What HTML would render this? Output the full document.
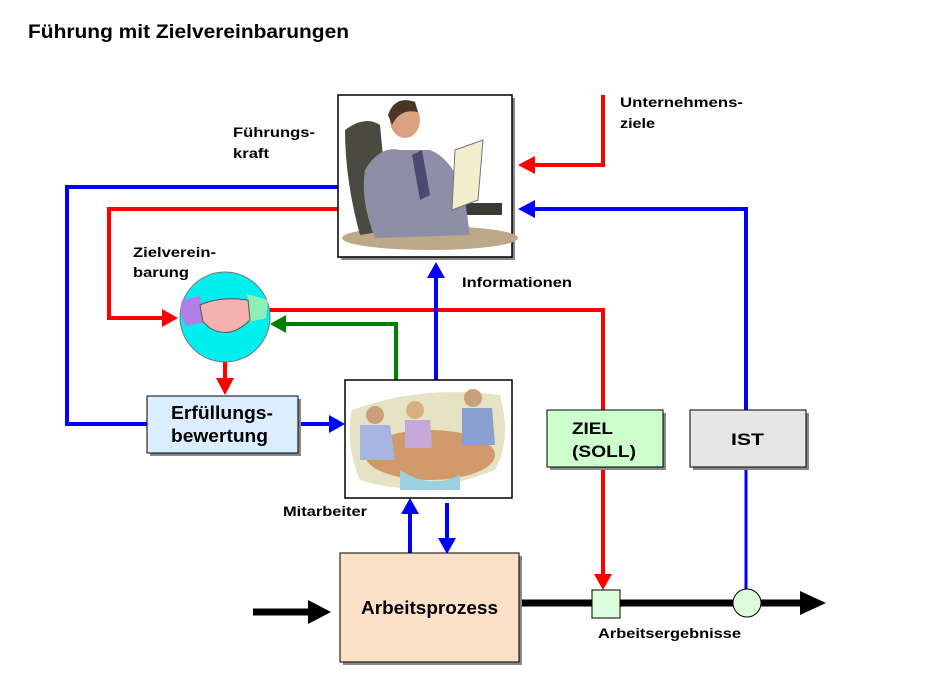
<!DOCTYPE html>
<html><head><meta charset="utf-8"><style>
html,body{margin:0;padding:0;background:#fff;}
svg{display:block;font-family:"Liberation Sans",sans-serif;font-weight:bold;}
</style></head><body>
<svg width="928" height="688" viewBox="0 0 928 688" xmlns="http://www.w3.org/2000/svg">
<text x="28" y="38" font-size="19" fill="#000" textLength="321" lengthAdjust="spacingAndGlyphs">Führung mit Zielvereinbarungen</text>

<polyline points="338,187 67,187 67,424 147,424" fill="none" stroke="#0000ff" stroke-width="4"/>
<polyline points="338,209 109,209 109,318 164,318" fill="none" stroke="red" stroke-width="4"/>
<polygon points="162,309 178,318 162,327" fill="red"/>
<polyline points="603,95 603,165 533,165" fill="none" stroke="red" stroke-width="4"/>
<polygon points="535,156 518,165 535,174" fill="red"/>
<polyline points="746,410 746,209 533,209" fill="none" stroke="#0000ff" stroke-width="4"/>
<polygon points="535,200 518,209 535,218" fill="#0000ff"/>
<polyline points="268,310 603,310 603,410" fill="none" stroke="red" stroke-width="4"/>
<line x1="603" y1="467" x2="603" y2="576" stroke="red" stroke-width="4"/>
<polygon points="594,574 603,590 612,574" fill="red"/>
<polyline points="396,380 396,324 284,324" fill="none" stroke="#008000" stroke-width="4"/>
<polygon points="286,315 270,324 286,333" fill="#008000"/>
<line x1="225" y1="360" x2="225" y2="380" stroke="red" stroke-width="4"/>
<polygon points="216,378 225,395 234,378" fill="red"/>
<line x1="298" y1="424" x2="330" y2="424" stroke="#0000ff" stroke-width="4"/>
<polygon points="329,415 345,424 329,433" fill="#0000ff"/>
<line x1="436" y1="380" x2="436" y2="276" stroke="#0000ff" stroke-width="4"/>
<polygon points="427,278 436,262 445,278" fill="#0000ff"/>
<line x1="746" y1="467" x2="746" y2="592" stroke="#0000ff" stroke-width="3"/>
<line x1="410" y1="553" x2="410" y2="512" stroke="#0000ff" stroke-width="4"/>
<polygon points="401,514 410,498 419,514" fill="#0000ff"/>
<line x1="447" y1="503" x2="447" y2="540" stroke="#0000ff" stroke-width="4"/>
<polygon points="438,538 447,554 456,538" fill="#0000ff"/>
<line x1="253" y1="612" x2="312" y2="612" stroke="#000" stroke-width="7"/>
<polygon points="308,600 331,612 308,624" fill="#000"/>
<line x1="519" y1="603" x2="803" y2="603" stroke="#000" stroke-width="7"/>
<polygon points="800,591 826,603 800,615" fill="#000"/>
<rect x="592" y="590" width="28" height="28" fill="#ddfedd" stroke="#000" stroke-width="1"/>
<circle cx="747" cy="603" r="14" fill="#ddfedd" stroke="#000" stroke-width="1"/>

<rect x="341" y="98" width="174" height="162" fill="#888"/>
<rect x="338" y="95" width="174" height="162" fill="#fff" stroke="#000" stroke-width="1.5"/>
<ellipse cx="430" cy="238" rx="88" ry="12" fill="#bba988"/>
<path d="M345,130 Q365,115 380,125 L390,230 L360,235 Q345,180 345,130Z" fill="#4a4a40"/>
<rect x="460" y="203" width="42" height="12" fill="#3b3b36"/>
<path d="M365,170 Q380,145 400,150 L430,150 Q455,160 465,200 L470,235 L375,238 Q360,200 365,170Z" fill="#8e8ea6"/>
<ellipse cx="405" cy="120" rx="15" ry="18" fill="#d7a382"/>
<path d="M388,115 Q395,95 415,102 L418,112 Q400,108 392,125Z" fill="#4b3526"/>
<path d="M412,155 L422,150 L430,195 L420,200Z" fill="#4a4a70"/>
<path d="M455,150 L483,140 L478,200 L452,210Z" fill="#f2efcc" stroke="#777" stroke-width="1"/>
<circle cx="225" cy="317" r="45" fill="#00eeee" stroke="#777" stroke-width="1"/>
<path d="M182,300 L200,296 L204,322 L186,326 Q178,312 182,300Z" fill="#b27fe8"/>
<path d="M247,294 L268,300 L266,318 L250,322Z" fill="#8ef0b5"/>
<path d="M200,305 Q220,296 248,300 L250,320 Q230,340 210,328 L203,322Z" fill="#f5b0b0" stroke="#555" stroke-width="1"/>
<rect x="150" y="399" width="151" height="57" fill="#888"/>
<rect x="147" y="396" width="151" height="57" fill="#dbeeff" stroke="#000" stroke-width="1"/>
<text x="171" y="419" font-size="18" textLength="102" lengthAdjust="spacingAndGlyphs">Erfüllungs-</text>
<text x="171" y="442" font-size="18" textLength="97" lengthAdjust="spacingAndGlyphs">bewertung</text>
<rect x="345" y="380" width="167" height="118" fill="#fff" stroke="#000" stroke-width="1.5"/>
<path d="M352,410 Q420,385 500,395 Q512,440 495,470 Q420,500 360,480 Q345,445 352,410Z" fill="#e6e2c4"/>
<ellipse cx="430" cy="455" rx="65" ry="25" fill="#d29a6a"/>
<circle cx="375" cy="415" r="9" fill="#caa07a"/><circle cx="415" cy="410" r="9" fill="#d8b080"/><circle cx="473" cy="398" r="9" fill="#c8a07a"/>
<path d="M360,425 L390,425 L395,460 L360,460Z" fill="#a8b4e0"/>
<path d="M405,420 L430,420 L432,448 L405,448Z" fill="#c8a8d8"/>
<path d="M462,408 L492,408 L495,445 L462,445Z" fill="#8aa0d0"/>
<path d="M400,470 Q430,490 460,475 L460,490 L400,490Z" fill="#9ad0e0"/>
<rect x="550" y="413" width="116" height="57" fill="#888"/>
<rect x="547" y="410" width="116" height="57" fill="#ccffcc" stroke="#000" stroke-width="1"/>
<text x="572" y="434" font-size="17" textLength="41" lengthAdjust="spacingAndGlyphs">ZIEL</text>
<text x="572" y="457" font-size="17" textLength="64" lengthAdjust="spacingAndGlyphs">(SOLL)</text>
<rect x="693" y="413" width="116" height="57" fill="#888"/>
<rect x="690" y="410" width="116" height="57" fill="#e6e6e6" stroke="#000" stroke-width="1"/>
<text x="731" y="445" font-size="17" textLength="33" lengthAdjust="spacingAndGlyphs">IST</text>
<rect x="343" y="556" width="179" height="109" fill="#888"/>
<rect x="340" y="553" width="179" height="109" fill="#fde0c8" stroke="#000" stroke-width="1"/>
<text x="361" y="614" font-size="18" textLength="137" lengthAdjust="spacingAndGlyphs">Arbeitsprozess</text>
<g font-size="14">
<text x="233" y="137" textLength="82" lengthAdjust="spacingAndGlyphs">Führungs-</text>
<text x="233" y="158" textLength="36" lengthAdjust="spacingAndGlyphs">kraft</text>
<text x="620" y="107" textLength="123" lengthAdjust="spacingAndGlyphs">Unternehmens-</text>
<text x="620" y="128" textLength="35" lengthAdjust="spacingAndGlyphs">ziele</text>
<text x="133" y="257" textLength="83" lengthAdjust="spacingAndGlyphs">Zielverein-</text>
<text x="133" y="277" textLength="56" lengthAdjust="spacingAndGlyphs">barung</text>
<text x="462" y="287" textLength="110" lengthAdjust="spacingAndGlyphs">Informationen</text>
<text x="283" y="516" textLength="84" lengthAdjust="spacingAndGlyphs">Mitarbeiter</text>
<text x="598" y="638" textLength="143" lengthAdjust="spacingAndGlyphs">Arbeitsergebnisse</text>
</g>
</svg>
</body></html>
